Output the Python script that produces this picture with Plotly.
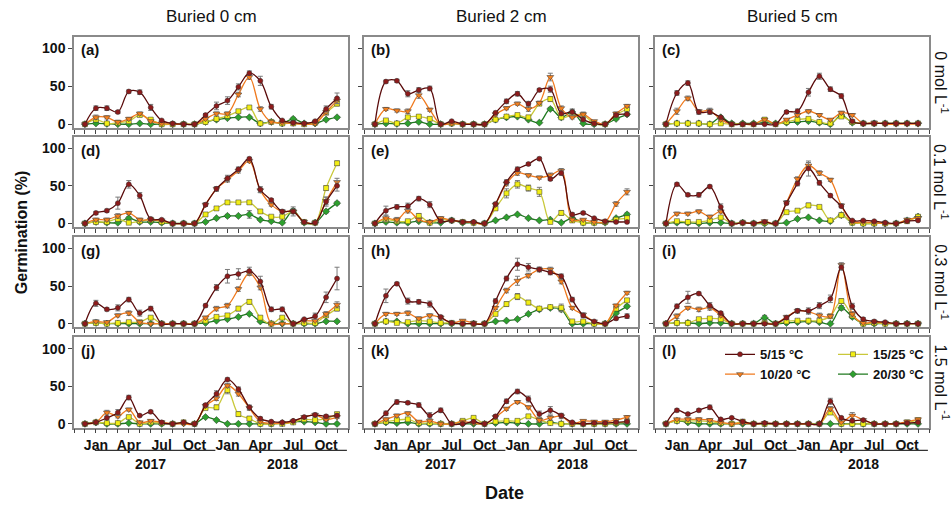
import plotly.graph_objects as go
from plotly.subplots import make_subplots

# ---------------- data ----------------
months = ["Dec 2016", "Jan 2017", "Feb 2017", "Mar 2017", "Apr 2017", "May 2017", "Jun 2017",
          "Jul 2017", "Aug 2017", "Sep 2017", "Oct 2017", "Nov 2017", "Dec 2017",
          "Jan 2018", "Feb 2018", "Mar 2018", "Apr 2018", "May 2018", "Jun 2018",
          "Jul 2018", "Aug 2018", "Sep 2018", "Oct 2018", "Nov 2018"]
label_positions = [1, 4, 7, 10, 13, 16, 19, 22]
label_text = ["Jan", "Apr", "Jul", "Oct", "Jan", "Apr", "Jul", "Oct"]
series_names = ["5/15 °C", "10/20 °C", "15/25 °C", "20/30 °C"]
col_titles = ["Buried 0 cm", "Buried 2 cm", "Buried 5 cm"]
row_titles = ["0 mol L<sup>-1</sup>", "0.1 mol L<sup>-1</sup>", "0.3 mol L<sup>-1</sup>", "1.5 mol L<sup>-1</sup>"]
panel_labels = ["(a)", "(b)", "(c)", "(d)", "(e)", "(f)", "(g)", "(h)", "(i)", "(j)", "(k)", "(l)"]
years = ["2017", "2018"]

# panel (a)
a_515 = [0, 21, 21, 16, 43, 42, 22, 5, 1, 0, 0, 12, 24, 31, 49, 67, 57, 23, 5, 2, 1, 4, 20, 34]
a_1020 = [0, 9, 9, 3, 7, 14, 4, 1, 0, 0, 0, 7, 14, 14, 39, 62, 20, 3, 2, 1, 0, 1, 16, 31]
a_1525 = [0, 6, 1, 2, 4, 12, 6, 0, 0, 0, 0, 3, 7, 11, 17, 22, 1, 3, 1, 1, 0, 2, 15, 27]
a_2030 = [0, 1, 0.5, 0, 0, 1, 0, 0, 0, 0, 0, 3, 6, 8, 9, 9, 1, 3, 1, 7, 1, 1, 6, 9]
a_515_e = [0, 3, 3, 2, 2, 3, 4, 1, 0, 0, 0, 2, 5, 5, 4, 3, 6, 3, 1, 1, 0, 1, 4, 7]
a_1020_e = [0, 3, 2, 1, 2, 2, 1, 0, 0, 0, 0, 1, 2, 2, 3, 3, 3, 1, 1, 0, 0, 1, 3, 4]
a_1525_e = [0, 2, 1, 1, 3, 2, 2, 0, 0, 0, 0, 1, 1, 1, 2, 2, 1, 1, 1, 0, 0, 1, 2, 3]
a_2030_e = [0, 1, 0, 0, 0, 0, 0, 0, 0, 0, 0, 1, 1, 1, 1, 1, 0, 1, 0, 2, 0, 0, 1, 1]
# panel (b)
b_515 = [0, 56, 57, 40, 45, 47, 0, 4, 0, 0, 0, 15, 30, 40, 27, 45, 46, 14, 16, 6, 1, 0, 12, 13]
b_1020 = [0, 20, 18, 17, 38, 19, 0, 1, 0, 0, 0, 13, 21, 27, 20, 28, 62, 21, 9, 13, 4, 0, 14, 24]
b_1525 = [0, 5, 1, 9, 10, 7, 0, 1, 0, 0, 0, 6, 10, 12, 9, 27, 33, 9, 12, 12, 1, 0, 12, 20]
b_2030 = [0, 1, 0.5, 1, 3, 0, 0, 1, 0, 0, 0, 6, 9, 10, 6, 2, 20, 9, 16, 1, 0, 0, 7, 13]
b_515_e = [0, 2, 2, 4, 3, 3, 1, 1, 0, 0, 0, 2, 3, 3, 3, 2, 4, 2, 4, 2, 1, 0, 2, 2]
b_1020_e = [0, 2, 2, 3, 4, 2, 0, 1, 0, 0, 0, 2, 2, 2, 3, 2, 5, 3, 2, 3, 1, 0, 2, 2]
b_1525_e = [0, 1, 1, 2, 2, 2, 0, 0, 0, 0, 0, 1, 1, 1, 2, 2, 3, 1, 2, 2, 0, 0, 2, 2]
b_2030_e = [0, 0, 0, 0, 1, 0, 0, 0, 0, 0, 0, 1, 1, 1, 1, 1, 2, 1, 3, 0, 0, 0, 1, 1]
# panel (c)
c_515 = [0, 41, 54, 16, 16, 9, 0, 0, 0, 0, 0, 16, 17, 42, 63, 46, 37, 4, 1, 1, 1, 1, 1, 1]
c_1020 = [0, 17, 34, 17, 18, 6, 0, 0, 0, 6, 0, 6, 12, 17, 12, 6, 15, 12, 1, 2, 0, 0, 0, 0]
c_1525 = [0, 1, 1, 1, 0, 1, 0, 0, 0, 6, 0, 3, 6, 7, 3, 1, 10, 3, 1, 1, 1, 1, 1, 1]
c_2030 = [0, 1, 1, 1, 0, 9, 1, 1, 1, 2, 1, 2, 3, 4, 2, 0, 12, 2, 1, 1, 1, 1, 1, 1]
c_515_e = [0, 3, 3, 3, 3, 2, 0, 0, 0, 0, 0, 2, 3, 5, 4, 3, 3, 2, 0, 0, 0, 0, 0, 0]
c_1020_e = [0, 4, 3, 2, 3, 1, 0, 0, 0, 1, 0, 1, 2, 2, 2, 1, 2, 2, 1, 1, 0, 0, 0, 0]
c_1525_e = [0, 1, 1, 1, 0, 1, 0, 0, 0, 1, 0, 1, 1, 1, 1, 1, 2, 1, 0, 0, 0, 0, 0, 0]
c_2030_e = [0, 1, 1, 0, 0, 1, 0, 0, 0, 1, 0, 1, 1, 1, 1, 0, 2, 1, 0, 0, 0, 0, 0, 0]
# panel (d)
d_515 = [0, 14, 17, 27, 52, 37, 6, 5, 0, 0, 0, 25, 46, 60, 72, 86, 45, 31, 16, 16, 2, 1, 29, 50]
d_1020 = [0, 5, 5, 10, 14, 5, 5, 4, 0, 0, 0, 25, 46, 58, 70, 83, 44, 25, 16, 16, 2, 1, 30, 55]
d_1525 = [0, 2, 2, 6, 1, 3, 5, 2, 0, 0, 0, 12, 20, 28, 28, 28, 16, 9, 9, 16, 2, 1, 47, 80]
d_2030 = [0, 2, 1, 1, 7, 2, 2, 1, 0, 0, 0, 2, 7, 10, 10, 12, 5, 3, 1, 17, 1, 1, 16, 27]
d_515_e = [0, 2, 2, 8, 5, 4, 1, 1, 0, 0, 0, 2, 3, 4, 3, 2, 4, 2, 2, 6, 1, 1, 6, 7]
d_1020_e = [0, 2, 2, 3, 2, 2, 1, 1, 0, 0, 0, 2, 3, 3, 3, 2, 3, 2, 2, 2, 1, 1, 5, 5]
d_1525_e = [0, 1, 1, 2, 1, 1, 1, 1, 0, 0, 0, 2, 2, 2, 2, 2, 2, 1, 1, 2, 1, 1, 3, 3]
d_2030_e = [0, 1, 1, 1, 2, 1, 1, 1, 0, 0, 0, 1, 1, 2, 1, 5, 1, 1, 0, 2, 0, 0, 2, 2]
# panel (e)
e_515 = [0, 17, 22, 23, 33, 25, 3, 4, 2, 2, 0, 26, 55, 72, 79, 86, 59, 67, 12, 14, 7, 3, 2, 2]
e_1020 = [0, 7, 5, 17, 5, 2, 7, 4, 2, 1, 0, 25, 53, 67, 64, 61, 64, 70, 5, 5, 2, 2, 26, 42]
e_1525 = [0, 5, 3, 3, 10, 1, 5, 4, 2, 1, 0, 20, 40, 52, 47, 42, 2, 14, 4, 1, 1, 2, 5, 7]
e_2030 = [0, 2, 1, 1, 3, 1, 1, 4, 1, 1, 0, 4, 8, 12, 7, 4, 5, 1, 7, 1, 1, 1, 7, 12]
e_515_e = [0, 6, 3, 4, 3, 4, 2, 1, 1, 0, 0, 2, 3, 3, 2, 2, 2, 3, 2, 2, 1, 1, 1, 1]
e_1020_e = [0, 4, 3, 3, 2, 1, 2, 1, 1, 0, 0, 2, 3, 3, 2, 2, 3, 3, 1, 1, 1, 1, 3, 4]
e_1525_e = [0, 2, 1, 1, 3, 1, 2, 1, 1, 0, 0, 2, 6, 5, 4, 6, 1, 3, 1, 0, 0, 1, 1, 2]
e_2030_e = [0, 1, 0, 0, 1, 0, 0, 1, 0, 0, 0, 1, 1, 1, 1, 1, 1, 0, 2, 0, 0, 0, 1, 2]
# panel (f)
f_515 = [0, 52, 38, 38, 49, 22, 0, 1, 0, 2, 0, 27, 53, 73, 54, 37, 23, 4, 4, 3, 1, 0, 3, 4]
f_1020 = [0, 13, 13, 16, 9, 16, 0, 1, 0, 3, 0, 28, 59, 77, 67, 58, 24, 2, 2, 1, 0, 0, 5, 7]
f_1525 = [0, 3, 2, 2, 4, 8, 0, 1, 0, 1, 0, 15, 17, 24, 22, 4, 11, 1, 0, 0, 0, 0, 3, 9]
f_2030 = [0, 1, 1, 0, 1, 1, 0, 1, 0, 0, 0, 1, 6, 8, 4, 3, 11, 1, 0, 0, 0, 0, 4, 9]
f_515_e = [0, 2, 2, 3, 2, 4, 0, 1, 0, 1, 0, 2, 3, 10, 3, 2, 2, 1, 1, 1, 0, 0, 1, 1]
f_1020_e = [0, 2, 2, 2, 2, 2, 0, 0, 0, 1, 0, 2, 3, 4, 3, 2, 2, 1, 1, 1, 0, 0, 2, 2]
f_1525_e = [0, 1, 1, 1, 1, 2, 0, 0, 0, 0, 0, 2, 2, 3, 2, 1, 3, 0, 0, 0, 0, 0, 1, 2]
f_2030_e = [0, 1, 1, 0, 1, 1, 0, 0, 0, 0, 0, 0, 1, 1, 1, 1, 1, 0, 0, 0, 0, 0, 1, 2]
# panel (g)
g_515 = [0, 27, 19, 21, 32, 14, 20, 0, 0, 0, 0, 24, 48, 63, 66, 70, 56, 19, 19, 0, 6, 10, 35, 60]
g_1020 = [0, 3, 2, 11, 14, 2, 0, 0, 0, 0, 0, 8, 20, 24, 46, 67, 48, 0, 0, 0, 4, 4, 13, 25]
g_1525 = [0, 1, 0, 1, 2, 2, 8, 0, 0, 0, 0, 4, 9, 11, 20, 29, 8, 0, 8, 0, 1, 1, 11, 20]
g_2030 = [0, 1, 0, 0, 0, 0, 0, 0, 0, 0, 0, 1, 4, 6, 9, 13, 3, 0, 0, 0, 0, 0, 3, 3]
g_515_e = [0, 4, 2, 4, 3, 4, 3, 0, 0, 0, 0, 2, 4, 9, 7, 5, 7, 3, 3, 0, 1, 4, 7, 15]
g_1020_e = [0, 2, 1, 2, 3, 2, 0, 0, 0, 0, 0, 2, 3, 3, 3, 3, 3, 0, 0, 0, 1, 1, 3, 4]
g_1525_e = [0, 1, 0, 1, 2, 2, 2, 0, 0, 0, 0, 2, 2, 2, 3, 3, 2, 0, 2, 0, 0, 1, 2, 3]
g_2030_e = [0, 1, 0, 0, 0, 0, 0, 0, 0, 0, 0, 1, 1, 1, 1, 1, 1, 0, 0, 0, 0, 0, 1, 1]
# panel (h)
h_515 = [0, 37, 53, 30, 29, 26, 9, 1, 0, 0, 0, 30, 60, 79, 75, 72, 68, 63, 32, 11, 3, 0, 7, 10]
h_1020 = [0, 13, 13, 14, 7, 11, 8, 1, 4, 1, 0, 21, 44, 57, 64, 72, 72, 56, 21, 12, 3, 0, 24, 41]
h_1525 = [0, 3, 1, 2, 4, 3, 1, 1, 0, 0, 0, 13, 26, 36, 28, 20, 22, 21, 3, 3, 0, 0, 20, 31]
h_2030 = [0, 3, 3, 0, 0, 0, 0, 0, 0, 0, 0, 3, 4, 6, 13, 19, 21, 19, 0, 0, 0, 0, 14, 23]
h_515_e = [0, 9, 2, 4, 3, 4, 2, 1, 0, 0, 0, 3, 3, 8, 5, 3, 3, 3, 3, 3, 1, 0, 2, 3]
h_1020_e = [0, 2, 2, 3, 2, 2, 2, 1, 1, 0, 0, 2, 3, 6, 3, 3, 3, 3, 2, 2, 1, 0, 2, 2]
h_1525_e = [0, 2, 1, 1, 1, 1, 1, 0, 0, 0, 0, 2, 3, 4, 3, 2, 2, 5, 1, 1, 0, 0, 2, 2]
h_2030_e = [0, 1, 1, 0, 0, 0, 0, 0, 0, 0, 0, 1, 1, 1, 1, 2, 2, 3, 0, 0, 0, 0, 2, 2]
# panel (i)
i_515 = [0, 23, 35, 40, 24, 14, 0, 0, 0, 0, 0, 8, 17, 17, 24, 33, 75, 23, 6, 3, 2, 0, 0, 0]
i_1020 = [0, 10, 21, 19, 21, 11, 0, 0, 0, 0, 0, 9, 17, 16, 11, 10, 78, 13, 1, 2, 1, 0, 0, 0]
i_1525 = [0, 1, 1, 6, 7, 6, 0, 0, 0, 1, 0, 3, 4, 4, 4, 10, 30, 11, 0, 1, 0, 0, 0, 0]
i_2030 = [0, 1, 1, 0, 1, 1, 0, 0, 0, 8, 0, 1, 2, 3, 2, 0, 21, 9, 0, 0, 0, 0, 0, 0]
i_515_e = [0, 3, 8, 2, 4, 2, 0, 0, 0, 0, 0, 2, 2, 4, 4, 5, 4, 4, 2, 2, 1, 0, 0, 0]
i_1020_e = [0, 3, 2, 3, 3, 2, 0, 0, 0, 0, 0, 2, 3, 3, 3, 2, 3, 3, 1, 1, 1, 0, 0, 0]
i_1525_e = [0, 1, 1, 2, 2, 2, 0, 0, 0, 1, 0, 1, 1, 1, 1, 2, 3, 2, 0, 1, 0, 0, 0, 0]
i_2030_e = [0, 1, 1, 0, 1, 1, 0, 0, 0, 3, 0, 0, 1, 1, 1, 0, 3, 2, 0, 0, 0, 0, 0, 0]
# panel (j)
j_515 = [0, 2, 8, 15, 35, 11, 16, 2, 0, 2, 0, 25, 40, 59, 46, 22, 7, 3, 2, 4, 9, 12, 10, 11]
j_1020 = [0, 2, 15, 10, 19, 2, 4, 2, 0, 0, 0, 24, 34, 51, 40, 21, 3, 1, 1, 3, 9, 12, 6, 9]
j_1525 = [0, 2, 1, 1, 9, 0, 2, 1, 0, 2, 0, 21, 22, 45, 13, 7, 0, 0, 0, 2, 6, 5, 7, 13]
j_2030 = [0, 2, 0, 0, 1, 0, 0, 0, 0, 1, 0, 9, 5, 0, 0, 0, 0, 0, 1, 3, 3, 2, 0, 0]
j_515_e = [0, 1, 2, 4, 3, 1, 2, 1, 0, 1, 0, 2, 4, 2, 3, 3, 2, 1, 1, 1, 2, 2, 2, 3]
j_1020_e = [0, 1, 3, 2, 2, 1, 1, 1, 0, 0, 0, 2, 3, 3, 3, 3, 2, 1, 1, 1, 2, 2, 2, 2]
j_1525_e = [0, 1, 1, 1, 2, 0, 1, 1, 0, 1, 0, 2, 3, 5, 3, 3, 0, 0, 0, 1, 2, 2, 2, 2]
j_2030_e = [0, 1, 0, 0, 0, 0, 0, 0, 0, 0, 0, 1, 1, 0, 0, 0, 0, 0, 0, 1, 1, 1, 0, 0]
# panel (k)
k_515 = [0, 14, 29, 28, 25, 11, 18, 0, 0, 3, 0, 10, 30, 43, 33, 13, 18, 11, 2, 0, 1, 1, 2, 3]
k_1020 = [0, 6, 11, 14, 3, 4, 0, 0, 3, 1, 0, 9, 20, 29, 22, 5, 8, 10, 0, 4, 3, 3, 5, 9]
k_1525 = [0, 3, 5, 6, 1, 1, 0, 0, 4, 8, 0, 3, 4, 4, 10, 5, 1, 0, 0, 0, 0, 0, 1, 3]
k_2030 = [0, 2, 1, 2, 0, 0, 0, 0, 0, 0, 0, 1, 2, 1, 0, 0, 2, 0, 0, 0, 0, 0, 0, 0]
k_515_e = [0, 3, 3, 2, 3, 4, 3, 0, 0, 1, 0, 2, 3, 3, 4, 4, 5, 3, 1, 0, 1, 1, 1, 2]
k_1020_e = [0, 2, 2, 2, 1, 1, 0, 0, 1, 1, 0, 2, 2, 2, 2, 2, 3, 3, 0, 1, 1, 1, 1, 2]
k_1525_e = [0, 1, 2, 2, 1, 1, 0, 0, 1, 2, 0, 1, 1, 1, 2, 2, 1, 0, 0, 0, 0, 0, 1, 1]
k_2030_e = [0, 1, 1, 1, 0, 0, 0, 0, 0, 0, 0, 1, 1, 1, 0, 0, 1, 0, 0, 0, 0, 0, 0, 0]
# panel (l)
l_515 = [0, 18, 13, 18, 22, 6, 8, 3, 0, 1, 0, 0, 0, 0, 0, 30, 8, 4, 5, 0, 0, 0, 1, 2]
l_1020 = [0, 6, 6, 6, 5, 2, 0, 1, 0, 1, 0, 0, 0, 0, 0, 20, 2, 11, 5, 0, 0, 0, 3, 6]
l_1525 = [0, 4, 4, 4, 3, 1, 0, 3, 0, 0, 0, 0, 0, 0, 0, 15, 0, 0, 0, 0, 0, 0, 2, 5]
l_2030 = [0, 4, 2, 0, 0, 0, 0, 0, 0, 0, 0, 0, 0, 0, 0, 0, 0, 0, 0, 0, 0, 0, 0, 0]
l_515_e = [0, 2, 2, 2, 3, 1, 1, 1, 0, 1, 0, 0, 0, 0, 0, 4, 2, 1, 1, 0, 0, 0, 1, 1]
l_1020_e = [0, 1, 2, 2, 2, 1, 0, 1, 0, 1, 0, 0, 0, 0, 0, 3, 1, 4, 1, 0, 0, 0, 1, 1]
l_1525_e = [0, 1, 1, 1, 1, 1, 0, 1, 0, 0, 0, 0, 0, 0, 0, 2, 0, 0, 0, 0, 0, 0, 1, 1]
l_2030_e = [0, 1, 1, 0, 0, 0, 0, 0, 0, 0, 0, 0, 0, 0, 0, 0, 0, 0, 0, 0, 0, 0, 0, 0]

panels = [
    ((a_515, a_515_e), (a_1020, a_1020_e), (a_1525, a_1525_e), (a_2030, a_2030_e)),
    ((b_515, b_515_e), (b_1020, b_1020_e), (b_1525, b_1525_e), (b_2030, b_2030_e)),
    ((c_515, c_515_e), (c_1020, c_1020_e), (c_1525, c_1525_e), (c_2030, c_2030_e)),
    ((d_515, d_515_e), (d_1020, d_1020_e), (d_1525, d_1525_e), (d_2030, d_2030_e)),
    ((e_515, e_515_e), (e_1020, e_1020_e), (e_1525, e_1525_e), (e_2030, e_2030_e)),
    ((f_515, f_515_e), (f_1020, f_1020_e), (f_1525, f_1525_e), (f_2030, f_2030_e)),
    ((g_515, g_515_e), (g_1020, g_1020_e), (g_1525, g_1525_e), (g_2030, g_2030_e)),
    ((h_515, h_515_e), (h_1020, h_1020_e), (h_1525, h_1525_e), (h_2030, h_2030_e)),
    ((i_515, i_515_e), (i_1020, i_1020_e), (i_1525, i_1525_e), (i_2030, i_2030_e)),
    ((j_515, j_515_e), (j_1020, j_1020_e), (j_1525, j_1525_e), (j_2030, j_2030_e)),
    ((k_515, k_515_e), (k_1020, k_1020_e), (k_1525, k_1525_e), (k_2030, k_2030_e)),
    ((l_515, l_515_e), (l_1020, l_1020_e), (l_1525, l_1525_e), (l_2030, l_2030_e)),
]

# ---------------- styles ----------------
W, H = 951, 512
FONT = "Arial, Liberation Sans, sans-serif"
line_colors = ["#5A0A0A", "#F07A1E", "#C9C83A", "#1F7A1F"]
marker_colors = ["#8E1B1B", "#F5801E", "#F2EE14", "#2EA02E"]
marker_symbols = ["circle", "triangle-down", "square", "diamond"]
marker_sizes = [5, 6, 5, 5.5]
draw_order = [3, 2, 1, 0]
legend_of = ["legend", "legend", "legend2", "legend2"]

col_px = [(74, 348), (364, 638), (655, 929)]
row_px = [(37, 129), (138, 229), (239, 330), (340, 431)]

fig = make_subplots(rows=4, cols=3)
x_vals = list(range(len(months)))

for p, panel in enumerate(panels):
    r, c = divmod(p, 3)
    for s in draw_order:
        vals, errs = panel[s]
        fig.add_trace(go.Scatter(
            x=x_vals, y=vals, name=series_names[s],
            mode="lines+markers",
            line=dict(color=line_colors[s], width=1.3, shape="spline", smoothing=1),
            marker=dict(symbol=marker_symbols[s], size=marker_sizes[s], color=marker_colors[s],
                        line=dict(color="#333333", width=0.5)),
            error_y=dict(type="data", array=errs, visible=True, color="#7a7a7a",
                         thickness=1, width=2.5),
            showlegend=(p == 11), legend=legend_of[s], legendrank=s,
            hoverinfo="skip",
        ), row=r + 1, col=c + 1)

for p in range(12):
    r, c = divmod(p, 3)
    sfx = "" if p == 0 else str(p + 1)
    x0, x1 = col_px[c]
    y0, y1 = row_px[r]
    fig.layout["xaxis" + sfx].update(
        domain=[x0 / W, x1 / W], range=[-1, 24],
        tickmode="array", tickvals=label_positions, ticktext=label_text,
        showticklabels=(r == 3), ticks="outside", ticklen=4, tickwidth=1, tickcolor="#444",
        minor=dict(tickmode="linear", tick0=0, dtick=1, ticks="outside", ticklen=4,
                   tickwidth=1, tickcolor="#444", showgrid=False),
        showline=True, mirror=True, linecolor="#8a8a8a", linewidth=1.5,
        showgrid=False, zeroline=False,
        tickfont=dict(family=FONT, size=14, color="#111", weight="bold"),
    )
    fig.layout["yaxis" + sfx].update(
        domain=[1 - y1 / H, 1 - y0 / H], range=[-5, 115],
        tickmode="array", tickvals=[0, 50, 100],
        showticklabels=(c == 0), ticks="outside", ticklen=4, tickwidth=1, tickcolor="#444",
        showline=True, mirror=True, linecolor="#8a8a8a", linewidth=1.5,
        showgrid=False, zeroline=False,
        tickfont=dict(family=FONT, size=14, color="#111", weight="bold"),
    )
    fig.add_annotation(text=panel_labels[p], xref="x" + sfx + " domain", yref="y" + sfx + " domain",
                       x=0.02, y=0.97, xanchor="left", yanchor="top", showarrow=False,
                       font=dict(family=FONT, size=15, color="#111", weight="bold"))

for c, t in enumerate(col_titles):
    x0, x1 = col_px[c]
    fig.add_annotation(text=t, xref="paper", yref="paper", x=(x0 + x1) / 2 / W, y=1 - 17 / H,
                       xanchor="center", yanchor="middle", showarrow=False,
                       font=dict(family=FONT, size=17, color="#111"))
for r, t in enumerate(row_titles):
    y0, y1 = row_px[r]
    fig.add_annotation(text=t, xref="paper", yref="paper", x=941 / W, y=1 - (y0 + y1) / 2 / H,
                       xanchor="center", yanchor="middle", showarrow=False, textangle=90,
                       font=dict(family=FONT, size=16, color="#111"))

for c in range(3):
    sfx = str(9 + c + 1)
    for k, yr in enumerate(years):
        xa = 1 + 12 * k
        xb = 11.8 + 12 * k
        fig.add_shape(type="line", xref="x" + sfx, yref="paper", x0=xa - 0.1, x1=min(xb + 0.1, 23.9),
                      y0=1 - 454 / H, y1=1 - 454 / H, line=dict(color="#333", width=1.2))
        fig.add_annotation(text=yr, xref="x" + sfx, yref="paper", x=6 + 12 * k, y=1 - 468 / H,
                           xanchor="center", yanchor="middle", showarrow=False,
                           font=dict(family=FONT, size=14, color="#111", weight="bold"))

fig.add_annotation(text="Date", xref="paper", yref="paper", x=504 / W, y=1 - 497 / H,
                   xanchor="center", yanchor="middle", showarrow=False,
                   font=dict(family=FONT, size=18, color="#111", weight="bold"))
fig.add_annotation(text="Germination (%)", xref="paper", yref="paper", x=21 / W, y=1 - 234 / H,
                   xanchor="center", yanchor="middle", showarrow=False, textangle=-90,
                   font=dict(family=FONT, size=16, color="#111", weight="bold"))

legend_common = dict(bgcolor="rgba(0,0,0,0)", borderwidth=0, orientation="v",
                     font=dict(family=FONT, size=13, color="#111", weight="bold"),
                     xanchor="left", yanchor="top", itemwidth=30, tracegroupgap=0)
fig.update_layout(
    width=W, height=H, margin=dict(l=0, r=0, t=0, b=0),
    paper_bgcolor="white", plot_bgcolor="white",
    font=dict(family=FONT, color="#111"),
    legend=dict(x=720 / W, y=1 - 342 / H, **legend_common),
    legend2=dict(x=833 / W, y=1 - 342 / H, **legend_common),
)

fig.write_html("out.html")
